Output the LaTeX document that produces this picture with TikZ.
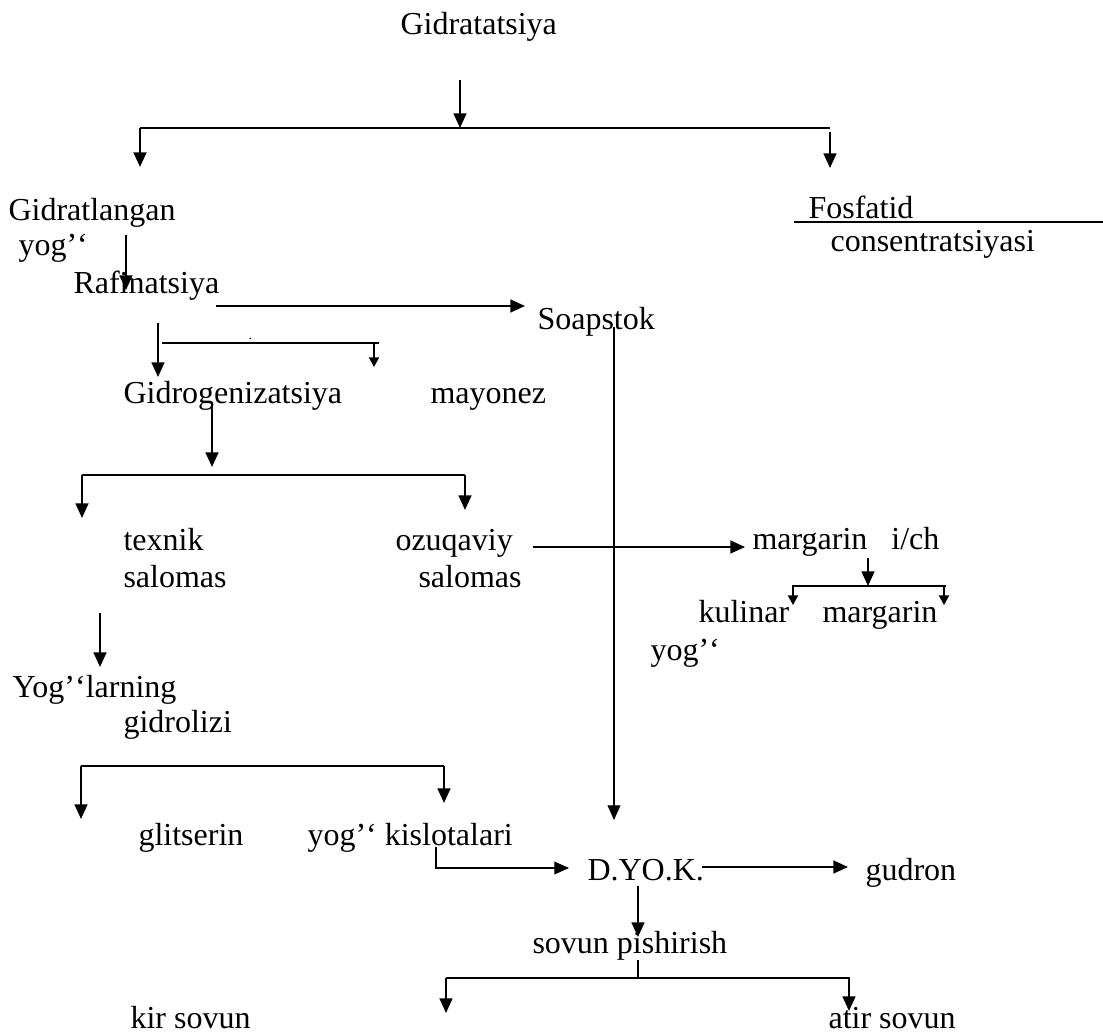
\documentclass[tikz,border=0pt]{standalone}
\usepackage{fontspec}
\setmainfont{Liberation Serif}
\usetikzlibrary{arrows.meta}
\tikzset{
  lbl/.style={anchor=base west,inner sep=0pt},
  arr/.style={line width=0.8pt,-{Triangle[length=5.5pt,width=4.8pt]}},
  sarr/.style={line width=0.6pt,-{Triangle[length=3.6pt,width=3.8pt]}},
  thinline/.style={line width=0.45pt}
}
\begin{document}
\begin{tikzpicture}[x=0.375pt,y=-0.375pt,font=\fontsize{12}{13.5}\selectfont]
\useasboundingbox (0,0) rectangle (1103,1034);
% texts (placed on their baselines)
\node[lbl] (gidr) at (400,35) {Gidratatsiya};
\node[lbl] (gidrl) at (8,220) {Gidratlangan};
\node[lbl] (gidrly) at (18,255) {yog’‘};
\node[lbl] (fosf) at (808,218) {Fosfatid};
\node[lbl] (cons) at (830,251) {consentratsiyasi};
\node[lbl] (rafin) at (73,293) {Rafinatsiya};
\node[lbl] (soap) at (537,329) {Soapstok};
\node[lbl,font=\tiny] (dot) at (248,339) {.};
\node[lbl] (gidrog) at (123,403) {Gidrogenizatsiya};
\node[lbl] (mayo) at (430,403) {mayonez};
\node[lbl] (texn) at (123,550) {texnik};
\node[lbl] (texns) at (123,587) {salomas};
\node[lbl] (ozuq) at (395,550) {ozuqaviy};
\node[lbl] (ozuqs) at (418,587) {salomas};
\node[lbl] (marg) at (752,549) {margarin\hspace{0.75em}i/ch};
\node[lbl] (kul) at (698,622) {kulinar};
\node[lbl] (marg2) at (822,622) {margarin};
\node[lbl] (kuly) at (650,660) {yog’‘};
\node[lbl] (yogl) at (12,697) {Yog’‘larning};
\node[lbl] (gidroli) at (123,732) {gidrolizi};
\node[lbl] (glits) at (138,845) {glitserin};
\node[lbl] (kisl) at (307,845) {yog’‘ kislotalari};
\node[lbl] (dyok) at (587,880) {D.YO.K.};
\node[lbl] (gudr) at (865,880) {gudron};
\node[lbl] (sovp) at (532,953) {sovun pishirish};
\node[lbl] (kir) at (130,1028) {kir sovun};
\node[lbl] (atir) at (828,1028) {atir sovun};
% junction points
\coordinate (j1) at (460,128);
\coordinate (j4) at (868,586);
\coordinate (j6) at (638,978);
% arrows
\draw[arr] (460,80) -- (j1);
\draw[line width=0.8pt] (830,128) -- (140,128);
\draw[arr] (140,128) -- (140,167);
\draw[arr] (830,132) -- (830,168);
\draw[line width=0.8pt] (794,222) -- (1103,222);
\draw[arr] (126,235) -- (126,290);
\draw[arr] (216,306) -- (525,306);
\draw[arr] (158,323) -- (158,377);
\draw[thinline] (162,343) -- (379,343);
\draw[sarr] (374,343) -- (374,367);
\draw[thinline,-{Triangle[length=5.5pt,width=4.8pt]}] (614,327) -- (614,820);
\draw[arr] (212,403) -- (212,467);
\draw[line width=0.8pt] (465,475) -- (82,475);
\draw[arr] (82,475) -- (82,518);
\draw[arr] (465,475) -- (465,510);
\draw[arr] (533,547) -- (745,547);
\draw[arr] (868,558) -- (j4);
\draw[thinline] (792,586) -- (946,586);
\draw[sarr] (793,586) -- (793,605);
\draw[sarr] (944,586) -- (944,605);
\draw[arr] (100,613) -- (100,667);
\draw[line width=0.8pt] (444,766) -- (81,766);
\draw[arr] (81,766) -- (81,819);
\draw[arr] (444,766) -- (444,803);
\draw[thinline,-{Triangle[length=5.5pt,width=4.8pt]}] (436,847) |- (569,868);
\draw[arr] (702,867) -- (848,867);
\draw[arr] (638,886) -- (638,937);
\draw[thinline] (638,960) -- (j6);
\draw[line width=0.8pt] (446,978) -- (850,978);
\draw[arr] (446,978) -- (446,1013);
\draw[arr] (849,978) -- (849,1011);
\end{tikzpicture}
\end{document}
